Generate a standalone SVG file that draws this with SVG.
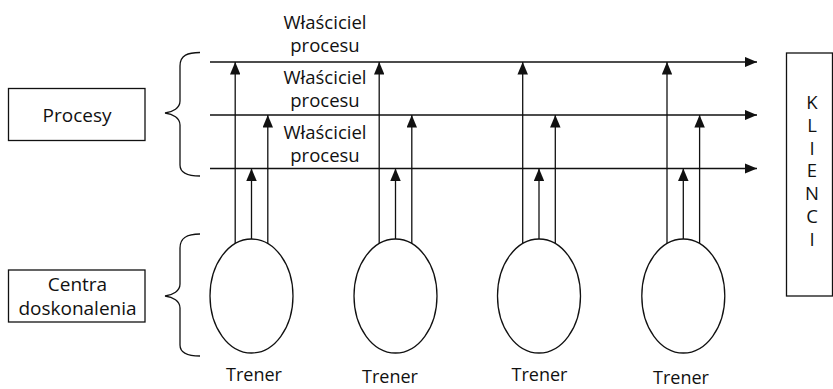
<svg xmlns="http://www.w3.org/2000/svg" width="833" height="389" viewBox="0 0 833 389">
  <defs>
    <marker id="arrow" viewBox="0 0 12.5 10.5" refX="12.5" refY="5.25" markerWidth="12.5" markerHeight="10.5" markerUnits="userSpaceOnUse" orient="auto">
      <path d="M0,0 L12.5,5.25 L0,10.5 Z" fill="#111"/>
    </marker>
  </defs>
  <style>
    .t { font-family: "Open Sans", "Liberation Sans", sans-serif; font-size: 18px; fill: #111; text-anchor: middle; }
    .big { font-size: 19px; }
    .mid { font-size: 18.5px; }
    .box { fill: #fff; stroke: #111; stroke-width: 1.3; }
    .ell { fill: #fff; stroke: #111; stroke-width: 1.3; }
    .brace { fill: none; stroke: #111; stroke-width: 1.3; }
    .flow { fill: none; stroke: #111; stroke-width: 1.3; }
    .arr { marker-end: url(#arrow); }
  </style>
  <rect width="833" height="389" fill="#fff"/>

  <!-- side labels -->
  <g id="procesy">
    <rect class="box" x="8.5" y="88.5" width="136.5" height="52"/>
    <text class="t big" x="77" y="121.5">Procesy</text>
  </g>
  <g id="centra">
    <rect class="box" x="8.5" y="270" width="136.5" height="52"/>
    <text class="t big" x="77.5" y="291">Centra</text>
    <text class="t big" x="77.5" y="315">doskonalenia</text>
  </g>
  <g id="klienci">
    <rect class="box" x="786.5" y="53" width="46" height="243"/>
    <text class="t mid" x="812" y="109">K</text>
    <text class="t mid" x="812" y="131.8">L</text>
    <text class="t mid" x="812" y="154.6">I</text>
    <text class="t mid" x="812" y="177.4">E</text>
    <text class="t mid" x="812" y="200.2">N</text>
    <text class="t mid" x="812" y="223">C</text>
    <text class="t mid" x="812" y="245.8">I</text>
  </g>

  <!-- braces -->
  <g id="brace-procesy">
    <path class="brace" d="M200,52.5 C188,52.5 180,55 180,66 L180,101 C180,108 173,112 165,113 C173,114 180,118 180,125 L180,165 C180,173 188,176 200,176"/>
  </g>
  <g id="brace-centra">
    <path class="brace" d="M200,234 C188,234 180,237 180,248 L180,284 C180,291 173,295 165,296 C173,297 180,301 180,308 L180,345 C180,353 188,356 200,356"/>
  </g>

  <!-- process owner labels -->
  <g id="wlasciciel-1">
    <text class="t mid" x="325" y="29">Właściciel</text>
    <text class="t mid" x="325" y="52">procesu</text>
  </g>
  <g id="wlasciciel-2">
    <text class="t mid" x="325" y="83.5">Właściciel</text>
    <text class="t mid" x="325" y="106.5">procesu</text>
  </g>
  <g id="wlasciciel-3">
    <text class="t mid" x="325" y="138.5">Właściciel</text>
    <text class="t mid" x="325" y="161.5">procesu</text>
  </g>

  <!-- trainers -->
  <g id="trener-1">
    <ellipse class="ell" cx="251.5" cy="296" rx="41.5" ry="57"/>
    <text class="t" x="254" y="380.5">Trener</text>
  </g>
  <g id="trener-2">
    <ellipse class="ell" cx="395.5" cy="296" rx="41.5" ry="57"/>
    <text class="t" x="390" y="383">Trener</text>
  </g>
  <g id="trener-3">
    <ellipse class="ell" cx="539" cy="296" rx="41.5" ry="57"/>
    <text class="t" x="539.5" y="381">Trener</text>
  </g>
  <g id="trener-4">
    <ellipse class="ell" cx="683.3" cy="296" rx="41.5" ry="57"/>
    <text class="t" x="681" y="384">Trener</text>
  </g>

  <!-- process lines and links from trainers -->
  <g id="connectors">
    <line class="flow arr" x1="210" y1="62" x2="757" y2="62"/>
    <line class="flow arr" x1="210" y1="115" x2="757" y2="115"/>
    <line class="flow arr" x1="210" y1="168.5" x2="757" y2="168.5"/>

    <line class="flow arr" x1="235.2" y1="243.5" x2="235.2" y2="62"/>
    <line class="flow arr" x1="251.5" y1="239" x2="251.5" y2="168.5"/>
    <line class="flow arr" x1="267.8" y1="243.5" x2="267.8" y2="115"/>

    <line class="flow arr" x1="379.2" y1="243.5" x2="379.2" y2="62"/>
    <line class="flow arr" x1="395.5" y1="239" x2="395.5" y2="168.5"/>
    <line class="flow arr" x1="411.8" y1="243.5" x2="411.8" y2="115"/>

    <line class="flow arr" x1="522.7" y1="243.5" x2="522.7" y2="62"/>
    <line class="flow arr" x1="539" y1="239" x2="539" y2="168.5"/>
    <line class="flow arr" x1="555.3" y1="243.5" x2="555.3" y2="115"/>

    <line class="flow arr" x1="667" y1="243.5" x2="667" y2="62"/>
    <line class="flow arr" x1="683.3" y1="239" x2="683.3" y2="168.5"/>
    <line class="flow arr" x1="699.6" y1="243.5" x2="699.6" y2="115"/>
  </g>
</svg>
